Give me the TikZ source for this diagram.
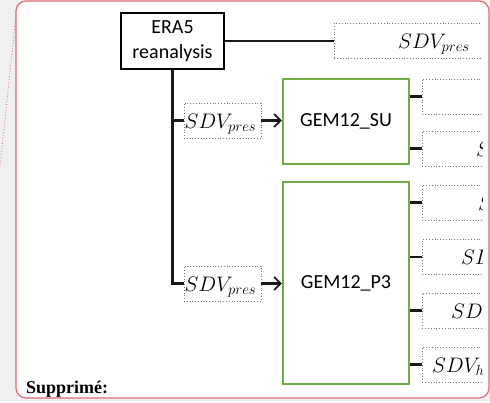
\RequirePackage{fix-cm}
\documentclass[tikz,border=0pt]{standalone}
\usepackage{fontspec}
\setmainfont{Carlito}
\newfontfamily\suppfont{Liberation Serif}
\usetikzlibrary{arrows.meta}
\definecolor{bggray}{RGB}{240,240,240}
\definecolor{balloon}{RGB}{226,104,112}
\definecolor{gemgreen}{RGB}{112,173,71}
\definecolor{dotgray}{RGB}{120,120,120}
\definecolor{linek}{RGB}{25,25,25}
\tikzset{
 era/.style={draw=black, line width=2.4pt, minimum width=103pt, minimum height=56pt, align=center, font=\fontsize{20}{25}\selectfont, inner sep=0pt},
 gem/.style={draw=gemgreen, line width=2.2pt, font=\fontsize{20}{24}\selectfont, inner sep=0pt, minimum width=126pt},
 dbox/.style={draw=dotgray, dotted, line width=0.8pt, inner sep=0pt, minimum height=35pt},
 sdv/.style={font=\fontsize{21}{25}\selectfont, inner sep=0pt, anchor=base west},
 conn/.style={draw=linek, line width=2.2pt},
 arr/.style={conn, -{Straight Barb[length=6.5pt,width=13pt,line width=1.8pt]}},
}
\begin{document}
\begin{tikzpicture}[x=1pt,y=-1pt]
\useasboundingbox (0,0) rectangle (490,402);
\fill[bggray] (0,0) rectangle (490,402);
\draw[balloon, dotted, line width=0.8pt] (16,15) -- (0,167);
\draw[balloon, fill=white, line width=1.2pt, rounded corners=10pt] (16,1) rectangle (489,398);
\node[font=\suppfont\bfseries\fontsize{18}{20}\selectfont, anchor=base west, inner sep=0pt] (supp) at (26,393) {Supprimé:};
\begin{scope}
\clip (17,2) rectangle (482,397);
% main nodes
\node[era] (era) at (172.5,41) {ERA5\\reanalysis};
\node[dbox, anchor=west, minimum width=170pt] (top) at (334,40.5) {};
\node[sdv] (toptxt) at (398,48) {$SDV_{pres}$};
\node[dbox, minimum width=77pt] (s1) at (222.5,120.5) {};
\node[sdv] (s1txt) at (184.5,128) {$SDV_{pres}$};
\node[dbox, minimum width=77pt] (s2) at (222.5,283.5) {};
\node[sdv] (s2txt) at (184.5,291) {$SDV_{pres}$};
\node[gem, minimum height=85pt] (su) at (346,121.5) {GEM12\_SU};
\node[gem, minimum height=202pt] (p3) at (346,283) {GEM12\_P3};
% right boxes
\node[dbox, anchor=west, minimum width=80pt] (r1) at (422,96.5) {};
\node[dbox, anchor=west, minimum width=80pt] (r2) at (422,148.5) {};
\node[sdv] (r2txt) at (476,156) {$SDV_{pres}$};
\node[dbox, anchor=west, minimum width=80pt] (pa) at (422,202.5) {};
\node[sdv] (patxt) at (478,210) {$SDV_{pres}$};
\node[dbox, anchor=west, minimum width=80pt] (pb) at (422,257) {};
\node[sdv] (pbtxt) at (461,264.5) {$SDV_{pres}$};
\node[dbox, anchor=west, minimum width=80pt] (pc) at (422,310.5) {};
\node[sdv] (pctxt) at (451,318) {$SDV_{pres}$};
\node[dbox, anchor=west, minimum width=80pt] (pd) at (422,364.5) {};
\node[sdv] (pdtxt) at (432,372) {$SDV_{hyd}$};
% connectors
\draw[conn] (era.east) -- (era.east -| top.west);
\draw[conn] (era.south) |- (s2.west);
\draw[conn] (s1.west -| era.south) -- (s1.west);
\draw[arr] (s1.east) -- (s1.east -| su.west);
\draw[arr] (s2.east) -- (s2.east -| p3.west);
\draw[conn] (r1.west -| su.east) -- (r1.west);
\draw[conn] (r2.west -| su.east) -- (r2.west);
\draw[conn] (pa.west -| p3.east) -- (pa.west);
\draw[conn] (pb.west -| p3.east) -- (pb.west);
\draw[conn] (pc.west -| p3.east) -- (pc.west);
\draw[conn] (pd.west -| p3.east) -- (pd.west);
\end{scope}
\end{tikzpicture}
\end{document}
